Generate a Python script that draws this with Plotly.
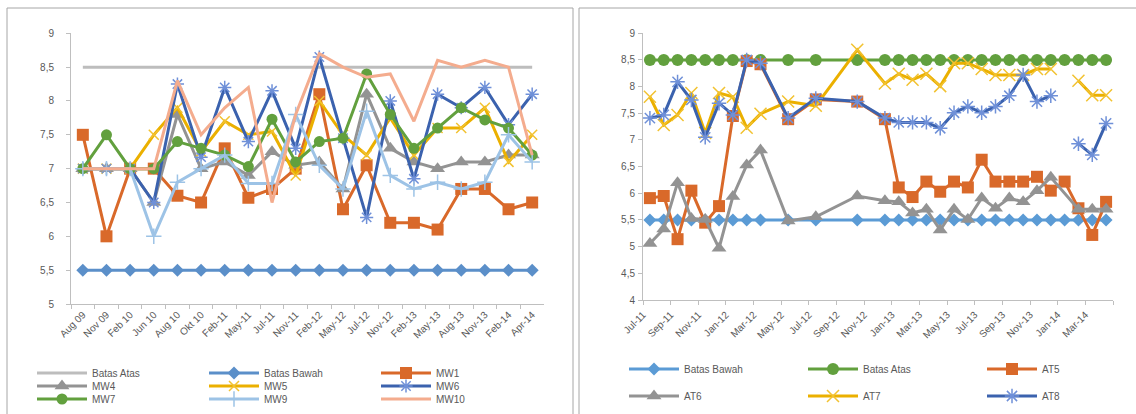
import plotly.graph_objects as go

# ---------------- Left chart data (MW wells) ----------------
mw_dates = ["Aug 09", "Nov 09", "Feb 10", "Jun 10", "Aug 10", "Okt 10", "Feb-11", "May-11",
            "Jul-11", "Nov-11", "Feb-12", "May-12", "Jul-12", "Nov-12", "Feb-13", "May-13",
            "Aug-13", "Nov-13", "Feb-14", "Apr-14"]
mw_batas_atas = [8.5, 8.5, 8.5, 8.5, 8.5, 8.5, 8.5, 8.5, 8.5, 8.5,
                 8.5, 8.5, 8.5, 8.5, 8.5, 8.5, 8.5, 8.5, 8.5, 8.5]
mw_batas_bawah = [5.5, 5.5, 5.5, 5.5, 5.5, 5.5, 5.5, 5.5, 5.5, 5.5,
                  5.5, 5.5, 5.5, 5.5, 5.5, 5.5, 5.5, 5.5, 5.5, 5.5]
mw1 = [7.5, 6.0, 7.0, 7.0, 6.6, 6.5, 7.3, 6.57, 6.7, 7.0, 8.1, 6.4, 7.05, 6.2, 6.2, 6.1, 6.7, 6.7, 6.4, 6.5]
mw4 = [7.0, 7.0, 7.0, 6.5, 7.8, 7.0, 7.1, 6.9, 7.25, 7.05, 7.1, 6.7, 8.1, 7.3, 7.1, 7.0, 7.1, 7.1, 7.2, 7.2]
mw5 = [7.0, 7.0, 7.0, 7.5, 7.9, 7.25, 7.7, 7.5, 7.55, 6.9, 8.0, 7.5, 7.2, 7.75, 7.2, 7.6, 7.6, 7.9, 7.1, 7.5]
mw6 = [7.0, 7.0, 7.0, 6.5, 8.25, 7.17, 8.2, 7.4, 8.15, 7.3, 8.65, 7.45, 6.28, 8.0, 6.85, 8.1, 7.9, 8.2, 7.65, 8.1]
mw7 = [7.0, 7.5, 7.0, 7.0, 7.4, 7.3, 7.2, 7.03, 7.73, 7.1, 7.4, 7.45, 8.4, 7.8, 7.3, 7.6, 7.9, 7.72, 7.6, 7.2]
mw9 = [7.0, 7.0, 7.0, 6.0, 6.8, 7.0, 7.2, 6.78, 6.78, 7.8, 7.05, 6.7, 7.85, 6.9, 6.7, 6.8, 6.7, 6.8, 7.5, 7.1]
mw10 = [7.0, 7.0, 7.0, 7.0, 8.3, 7.5, 7.9, 8.2, 6.5, 7.8, 8.7, 8.5, 8.35, 8.4, 7.7, 8.6, 8.5, 8.6, 8.5, 7.2]

# ---------------- Right chart data (AT wells) ----------------
at_months = ["Jul-11", "Aug-11", "Sep-11", "Oct-11", "Nov-11", "Dec-11", "Jan-12", "Feb-12", "Mar-12",
             "May-12", "Jul-12", "Oct-12", "Dec-12", "Jan-13", "Feb-13", "Mar-13", "Apr-13", "May-13",
             "Jun-13", "Jul-13", "Aug-13", "Sep-13", "Oct-13", "Nov-13", "Dec-13", "Jan-14", "Feb-14",
             "Mar-14", "Apr-14"]
at_tick_labels = ["Jul-11", "Sep-11", "Nov-11", "Jan-12", "Mar-12", "May-12", "Jul-12", "Sep-12",
                  "Nov-12", "Jan-13", "Mar-13", "May-13", "Jul-13", "Sep-13", "Nov-13", "Jan-14", "Mar-14"]
at_batas_bawah = [5.5, 5.5, 5.5, 5.5, 5.5, 5.5, 5.5, 5.5, 5.5, 5.5, 5.5, 5.5, 5.5, 5.5, 5.5,
                  5.5, 5.5, 5.5, 5.5, 5.5, 5.5, 5.5, 5.5, 5.5, 5.5, 5.5, 5.5, 5.5, 5.5]
at_batas_atas = [8.5, 8.5, 8.5, 8.5, 8.5, 8.5, 8.5, 8.5, 8.5, 8.5, 8.5, 8.5, 8.5, 8.5, 8.5,
                 8.5, 8.5, 8.5, 8.5, 8.5, 8.5, 8.5, 8.5, 8.5, 8.5, 8.5, 8.5, 8.5, 8.5]
at5 = [5.91, 5.95, 5.14, 6.05, 5.45, 5.76, 7.45, 8.48, 8.42, 7.39, 7.76, 7.72, 7.39, 6.11, 5.93,
       6.22, 6.03, 6.22, 6.11, 6.63, 6.22, 6.22, 6.22, 6.31, 6.05, 6.22, 5.72, 5.22, 5.84]
at6 = [5.06, 5.33, 6.2, 5.53, 5.51, 4.97, 5.94, 6.53, 6.81, 5.48, 5.56, 5.95, 5.86, 5.84, 5.63,
       5.7, 5.31, 5.7, 5.51, 5.91, 5.72, 5.91, 5.84, 6.05, 6.3, None, 5.7, 5.7, 5.7]
at7 = [7.81, 7.28, 7.47, 7.88, 7.13, 7.88, 7.81, 7.23, 7.49, 7.72, 7.64, 8.69, 8.06, 8.24, 8.13,
       8.24, 8.01, 8.44, 8.44, 8.33, 8.22, 8.22, 8.22, 8.33, 8.33, None, 8.11, 7.84, 7.84]
at8 = [7.41, 7.47, 8.09, 7.75, 7.05, 7.69, 7.47, 8.5, 8.44, 7.41, 7.78, 7.72, 7.41, 7.33, 7.33,
       7.33, 7.22, 7.51, 7.63, 7.51, 7.63, 7.83, 8.22, 7.72, 7.83, None, 6.93, 6.72, 7.31]

MON = {"Jan": 1, "Feb": 2, "Mar": 3, "Apr": 4, "May": 5, "Jun": 6, "Jul": 7, "Aug": 8,
       "Sep": 9, "Oct": 10, "Nov": 11, "Dec": 12}


def month_pos(label):
    m, y = label.split("-")
    idx = (2000 + int(y) - 2011) * 12 + MON[m] - 7
    return idx + 0.5


at_x = [month_pos(m) for m in at_months]

W, H = 1136, 414
FONT = "Liberation Sans"
TXT = "#595959"
AX = "#BFBFBF"

fig = go.Figure()


def add(x, y, name, color, xa, ya, legend, symbol=None, msize=10, mcolor=None, mline=0,
        width=3, connect=False):
    mode = "lines+markers" if symbol else "lines"
    marker = dict(symbol=symbol or "circle", size=msize, color=mcolor or color,
                  line=dict(width=mline, color=mcolor or color))
    fig.add_trace(go.Scatter(x=x, y=y, name=name, mode=mode, xaxis=xa, yaxis=ya,
                             line=dict(color=color, width=width), marker=marker,
                             legend=legend, connectgaps=connect, cliponaxis=False))


# left chart traces
add(mw_dates, mw_batas_atas, "Batas Atas", "#BDBDBD", "x", "y", "legend")
add(mw_dates, mw_batas_bawah, "Batas Bawah", "#5B8FC9", "x", "y", "legend", "diamond", 10)
add(mw_dates, mw1, "MW1", "#D9692A", "x", "y", "legend", "square", 12)
add(mw_dates, mw4, "MW4", "#939393", "x", "y", "legend2", "triangle-up", 13)
add(mw_dates, mw5, "MW5", "#EBB000", "x", "y", "legend2", "x-thin-open", 10, "#F2C230", 1.5)
add(mw_dates, mw6, "MW6", "#3B62AE", "x", "y", "legend2", "asterisk-open", 11, "#6F90D8", 1.5)
add(mw_dates, mw7, "MW7", "#62A03E", "x", "y", "legend3", "circle", 11)
add(mw_dates, mw9, "MW9", "#9DC3E6", "x", "y", "legend3", "cross-thin-open", 11, "#9DC3E6", 1.5)
add(mw_dates, mw10, "MW10", "#F4AC8E", "x", "y", "legend3")

# right chart traces
add(at_x, at_batas_bawah, "Batas Bawah", "#5B9BD5", "x2", "y2", "legend4", "diamond", 10)
add(at_x, at_batas_atas, "Batas Atas", "#62A03E", "x2", "y2", "legend4", "circle", 12)
add(at_x, at5, "AT5", "#D9692A", "x2", "y2", "legend4", "square", 12)
add(at_x, at6, "AT6", "#939393", "x2", "y2", "legend5", "triangle-up", 13, connect=True)
add(at_x, at7, "AT7", "#EBB000", "x2", "y2", "legend5", "x-thin-open", 12, "#F2C230", 1.5)
add(at_x, at8, "AT8", "#3B62AE", "x2", "y2", "legend5", "asterisk-open", 12, "#6F90D8", 1.5)

tickfont = dict(family=FONT, size=10, color=TXT)


def px_x(p):
    return p / W


def px_y(p):
    return 1 - p / H


axis_common = dict(showline=True, linecolor=AX, linewidth=1, showgrid=False, zeroline=False,
                   ticks="outside", ticklen=4, tickcolor=AX, tickfont=tickfont, automargin=False)

at_tickvals = [2 * i for i in range(len(at_tick_labels) + 1)]

fig.update_layout(
    width=W, height=H, margin=dict(l=0, r=0, t=0, b=0, autoexpand=False),
    paper_bgcolor="white", plot_bgcolor="white",
    separators=",.",
    showlegend=True,
    xaxis=dict(axis_common, type="category", categoryorder="array", categoryarray=mw_dates,
               range=[-0.5, len(mw_dates) - 0.5], tickson="boundaries", tickangle=-45,
               domain=[px_x(71), px_x(544)], anchor="y"),
    yaxis=dict(axis_common, range=[5, 9], tick0=5, dtick=0.5,
               domain=[px_y(304), px_y(33.3)], anchor="x", ticklabelstandoff=10),
    xaxis2=dict(axis_common, range=[0, 34], tickvals=at_tickvals, ticktext=at_tick_labels + [""],
                tickangle=-45, domain=[px_x(643), px_x(1113)], anchor="y2"),
    yaxis2=dict(axis_common, range=[4, 9], tick0=4, dtick=0.5,
                domain=[px_y(300), px_y(33.3)], anchor="x2", ticklabelstandoff=1),
)

leg_common = dict(orientation="h", xanchor="left", yanchor="middle", bgcolor="rgba(0,0,0,0)",
                  font=dict(family=FONT, size=10, color=TXT), entrywidthmode="pixels",
                  itemwidth=50, tracegroupgap=0)
fig.update_layout(
    legend=dict(leg_common, x=px_x(32), y=px_y(373), entrywidth=107),
    legend2=dict(leg_common, x=px_x(32), y=px_y(386), entrywidth=107),
    legend3=dict(leg_common, x=px_x(32), y=px_y(399), entrywidth=107),
    legend4=dict(leg_common, x=px_x(624), y=px_y(369), entrywidth=114),
    legend5=dict(leg_common, x=px_x(624), y=px_y(396), entrywidth=114),
)

# chart area borders
border = dict(color="#A6A6A6", width=1)
fig.add_shape(type="rect", xref="paper", yref="paper", x0=px_x(7), x1=px_x(573),
              y0=-0.1, y1=px_y(8), line=border, layer="below")
fig.add_shape(type="rect", xref="paper", yref="paper", x0=px_x(579), x1=1.02,
              y0=-0.1, y1=px_y(8), line=border, layer="below")

fig.write_html("out.html", post_script="document.body.style.margin='0';",
               config={"displayModeBar": False})
